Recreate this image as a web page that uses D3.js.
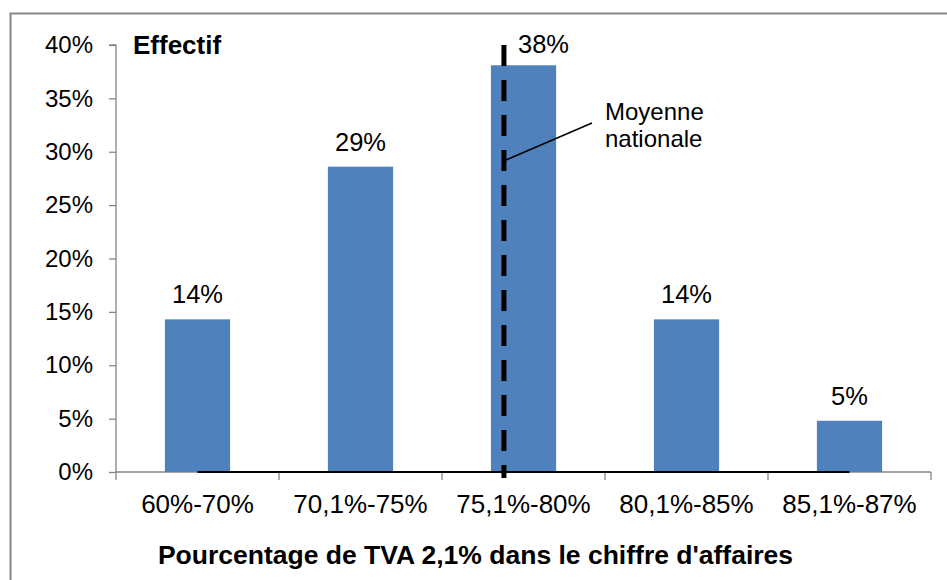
<!DOCTYPE html>
<html>
<head>
<meta charset="utf-8">
<script src="https://cdn.jsdelivr.net/npm/d3@7"></script>
<style>
  body { margin: 0; background: #fff; }
  text { font-family: "Liberation Sans", Arial, sans-serif; fill: #000; }
</style>
</head>
<body>
<svg id="chart" width="947" height="580"></svg>
<script>
// données
const categories = ["60%-70%", "70,1%-75%", "75,1%-80%", "80,1%-85%", "85,1%-87%"];
const effectif = [0.143, 0.286, 0.381, 0.143, 0.048];
const valueLabels = ["14%", "29%", "38%", "14%", "5%"];
const yTicks = [0, 0.05, 0.10, 0.15, 0.20, 0.25, 0.30, 0.35, 0.40];
const binEdges = [60, 70, 75, 80, 85, 87];
const moyenneNationale = 76.9;

const svg = d3.select("#chart");
const margin = { left: 116, right: 16, top: 45, bottom: 108 };
const W = 947, H = 580;

// cadre
svg.append("rect")
    .attr("x", 10.5).attr("y", 13.5)
    .attr("width", 960).attr("height", 600)
    .attr("fill", "none").attr("stroke", "#868686").attr("stroke-width", 2);

const x = d3.scaleBand()
    .domain(categories)
    .range([margin.left, W - margin.right])
    .paddingInner(0.6)
    .paddingOuter(0.3);

const y = d3.scaleLinear()
    .domain([0, 0.4])
    .range([H - margin.bottom, margin.top]);

// position continue sur l'axe des catégories
const xEdge = d3.scaleLinear()
    .domain(binEdges)
    .range(d3.range(categories.length + 1).map(i => margin.left + i * x.step()));

// axe Y
const yAxis = svg.append("g")
    .attr("transform", `translate(${margin.left},0)`)
    .call(d3.axisLeft(y).tickValues(yTicks).tickFormat(d3.format(".0%")).tickSize(7).tickPadding(16));
yAxis.select(".domain").attr("stroke", "#868686").attr("stroke-width", 1.3).attr("d", `M-7,${y(0.4)}H0V${y(0)}`);
yAxis.selectAll(".tick line").attr("stroke", "#868686").attr("stroke-width", 1.3);
yAxis.selectAll(".tick text").attr("font-size", 24).attr("font-family", "Liberation Sans, Arial, sans-serif").attr("fill", "#000");

// axe X
const xAxis = svg.append("g")
    .attr("transform", `translate(0,${y(0)})`);
xAxis.append("line")
    .attr("x1", margin.left).attr("x2", W - margin.right)
    .attr("stroke", "#868686").attr("stroke-width", 1.3);
xAxis.selectAll("line.tick")
    .data(d3.range(categories.length + 1))
    .join("line")
    .attr("class", "tick")
    .attr("x1", i => margin.left + i * x.step()).attr("x2", i => margin.left + i * x.step())
    .attr("y1", 0).attr("y2", 8)
    .attr("stroke", "#868686").attr("stroke-width", 1.3);
xAxis.selectAll("text")
    .data(categories)
    .join("text")
    .attr("x", d => x(d) + x.bandwidth() / 2)
    .attr("y", 41)
    .attr("text-anchor", "middle")
    .attr("font-size", 26)
    .text(d => d);

// barres
svg.selectAll("rect.bar")
    .data(effectif)
    .join("rect")
    .attr("class", "bar")
    .attr("x", (d, i) => x(categories[i]))
    .attr("width", x.bandwidth())
    .attr("y", d => y(d))
    .attr("height", d => y(0) - y(d))
    .attr("fill", "#4F81BD");

// ligne à zéro
svg.append("path")
    .datum(categories)
    .attr("fill", "none")
    .attr("stroke", "#000")
    .attr("stroke-width", 2)
    .attr("d", d3.line().x(d => x(d) + x.bandwidth() / 2).y(() => y(0)));

// étiquettes
svg.selectAll("text.val")
    .data(effectif)
    .join("text")
    .attr("class", "val")
    .attr("x", (d, i) => x(categories[i]) + x.bandwidth() / 2 + (i === 2 ? 20 : 0))
    .attr("y", (d, i) => i === 2 ? y(0.4) + 8 : y(d) - 16)
    .attr("text-anchor", "middle")
    .attr("font-size", 25.5)
    .text((d, i) => valueLabels[i]);

// moyenne nationale
const mx = xEdge(moyenneNationale);
svg.append("line")
    .attr("x1", mx).attr("x2", mx)
    .attr("y1", y(0.4)).attr("y2", y(0) + 6)
    .attr("stroke", "#000").attr("stroke-width", 5)
    .attr("stroke-dasharray", "21,14")
    .attr("stroke-dashoffset", 0);

svg.append("line")
    .attr("x1", mx + 2).attr("y1", 160)
    .attr("x2", 592).attr("y2", 123)
    .attr("stroke", "#000").attr("stroke-width", 1.5);

const note = svg.append("text").attr("x", 605).attr("font-size", 24);
note.append("tspan").attr("x", 605).attr("y", 120).text("Moyenne");
note.append("tspan").attr("x", 605).attr("y", 147).text("nationale");

svg.append("text")
    .attr("x", 133).attr("y", 54)
    .attr("font-size", 26).attr("font-weight", "bold")
    .text("Effectif");

svg.append("text")
    .attr("x", (margin.left + W - margin.right) / 2 - 48).attr("y", 564)
    .attr("text-anchor", "middle")
    .attr("font-size", 26.5).attr("font-weight", "bold")
    .text("Pourcentage de TVA 2,1% dans le chiffre d'affaires");
</script>
</body>
</html>
